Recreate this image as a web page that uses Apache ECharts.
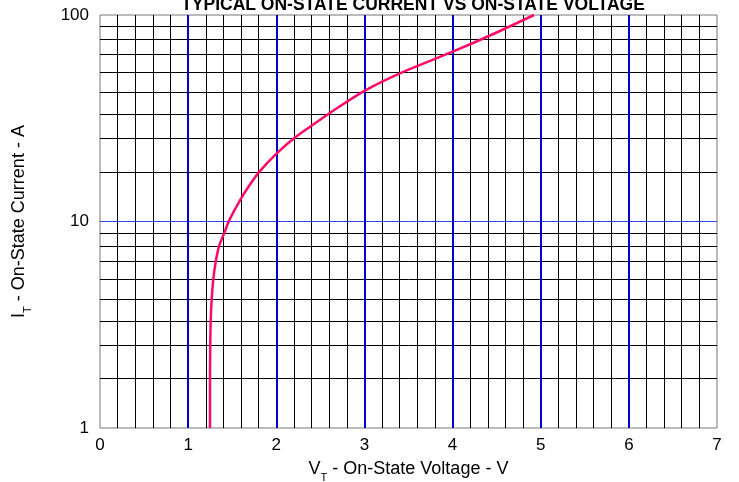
<!DOCTYPE html>
<html><head><meta charset="utf-8">
<script src="https://cdn.jsdelivr.net/npm/echarts@6/dist/echarts.min.js"></script>
<style>html,body{margin:0;padding:0;background:#fff}#c{width:739px;height:482px}</style>
</head><body><div id="c"></div>
<script>
const titleText = 'TYPICAL ON-STATE CURRENT VS ON-STATE VOLTAGE';
const voltage = [1.248,1.248,1.251,1.256,1.267,1.286,1.313,1.350,1.410,1.46,1.52,1.608,1.702,1.807,2.008,2.212,2.439,2.658,3.015,3.404,4.002,4.462,4.924];
const current = [1,1.74,2.52,3.30,4.21,5.27,6.39,7.58,8.80,10,11.22,13.1,15.12,17.4,21.42,25.52,29.9,34.7,43.3,52.2,66.4,80.9,100];
const xMajorLines = [1,2,3,4,5,6];
const yMinorLines = [1.74,2.52,3.30,4.21,5.27,6.39,7.58,8.80,17.4,25.3,33.0,42.2,52.6,64.2,75.9,88.4];
const yMajorLines = [10];

const font = 'Liberation Sans, Arial, Helvetica, sans-serif';
const chart = echarts.init(document.getElementById('c'), null, {renderer:'canvas'});
const lineOpts = (data, color, width) => ({
  symbol:'none', silent:true, animation:false,
  label:{show:false},
  lineStyle:{color:color, width:width, type:'solid'},
  emphasis:{disabled:true},
  data:data
});
const nameRich = {
  a:{fontFamily:font, fontSize:18, color:'#000', lineHeight:20, verticalAlign:'top'},
  s:{fontFamily:font, fontSize:11, color:'#000', lineHeight:11, verticalAlign:'top', padding:[12,0,0,0]}
};
chart.setOption({
  animation:false,
  title:{text:titleText, left:408, textAlign:'center', top:-9,
    textStyle:{fontFamily:font, fontWeight:'bold', fontSize:17.5, color:'#000'}},
  grid:{left:100, right:22, top:15, bottom:54, show:true, borderColor:'#777', borderWidth:1, backgroundColor:'#fff',
    outerBoundsMode:'none', containLabel:false},
  xAxis:{type:'value', min:0, max:7, interval:1,
    name:'{a|V}{s|T}{a| - On-State Voltage - V}', nameLocation:'middle', nameGap:32,
    nameTextStyle:{rich:nameRich},
    axisLine:{show:false}, axisTick:{show:false},
    axisLabel:{fontFamily:font, fontSize:17, color:'#000', margin:9},
    splitLine:{show:false},
    minorTick:{show:false, splitNumber:5},
    minorSplitLine:{show:true, lineStyle:{color:'#000', width:1}}
  },
  yAxis:{type:'log', logBase:10, min:1, max:100,
    name:'{a|I}{s|T}{a| - On-State Current - A}', nameLocation:'middle', nameGap:70,
    nameTextStyle:{rich:nameRich},
    axisLine:{show:false}, axisTick:{show:false},
    axisLabel:{fontFamily:font, fontSize:17, color:'#000', margin:11},
    splitLine:{show:false}
  },
  series:[
    {type:'line', data:[], z:1, silent:true,
      markLine:lineOpts(yMinorLines.map(v=>({yAxis:v})), '#000', 1)},
    {type:'line', data:[], z:1, silent:true,
      markLine:lineOpts(yMajorLines.map(v=>({yAxis:v})), '#3a45f0', 1)},
    {type:'line', data:[], z:2, silent:true,
      markLine:lineOpts(xMajorLines.map(v=>({xAxis:v})), '#0000cc', 2)},
    {type:'line', z:5, data:voltage.map((v,i)=>[v,current[i]]), symbol:'none', smooth:0.3,
      lineStyle:{color:'#ff0a6a', width:2.5}}
  ]
});
</script></body></html>
